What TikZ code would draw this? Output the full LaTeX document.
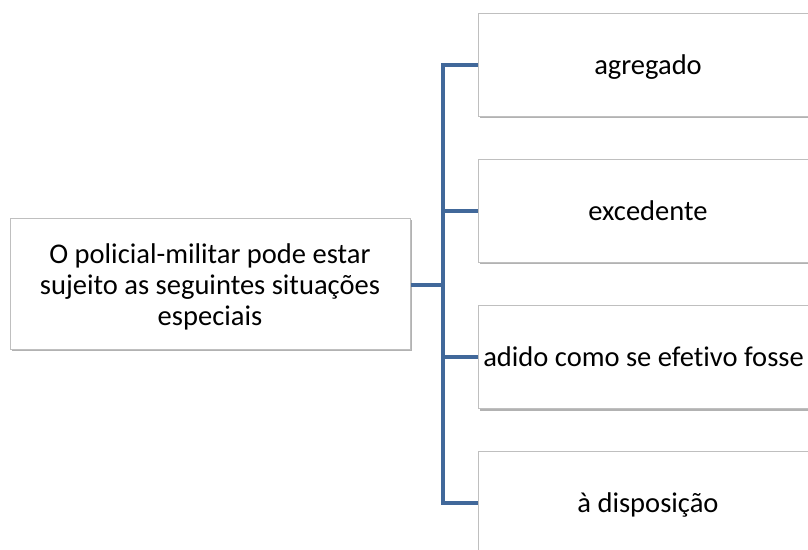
\documentclass[tikz,border=0pt]{standalone}
\usepackage{fontspec}
\setmainfont{Carlito}[Ligatures={NoCommon}]
\usetikzlibrary{shadows}
\definecolor{linkblue}{HTML}{41689A}
\definecolor{boxline}{HTML}{BFBFBF}
\begin{document}
\begin{tikzpicture}[x=0.75pt,y=-0.75pt,
  txt/.style={font=\fontsize{21.4}{23.2}\selectfont},
  box/.style={draw=boxline, line width=0.75pt, fill=white,
    drop shadow={shadow xshift=1.2pt, shadow yshift=-1.6pt, fill=black, opacity=0.3},
    txt, align=center, inner sep=0pt},
  lbox/.style={box, minimum width=300pt, minimum height=98.25pt},
  rbox/.style={box, minimum width=255pt, minimum height=77.25pt, text height=19.3pt, text depth=5pt},
  link/.style={draw=linkblue, line width=3pt, line join=miter}]
\useasboundingbox (0,0) rectangle (808,550);
\clip (0,0) rectangle (808,550);
\node[lbox] (L) at (210,283.5) {\vphantom{Ag}\\[-17pt]O policial-militar pode estar\\sujeito as seguintes situações\\especiais};
\node[rbox] (A) at (648,64.5) {agregado};
\node[rbox] (B) at (648,210.5) {excedente};
\node[rbox] (C) at (648,357) {};
\node[txt, anchor=base west, inner sep=0pt] (Ct) at (483,366) {adido como se efetivo fosse};
\node[rbox] (D) at (648,502.5) {à disposição};
\coordinate (J) at (443,285);
\draw[link] (L.east |- J) -- (J);
\draw[link] (J) |- (A.west);
\draw[link] (J) |- (B.west);
\draw[link] (J) |- (C.west);
\draw[link] (J) |- (D.west);
\end{tikzpicture}
\end{document}
